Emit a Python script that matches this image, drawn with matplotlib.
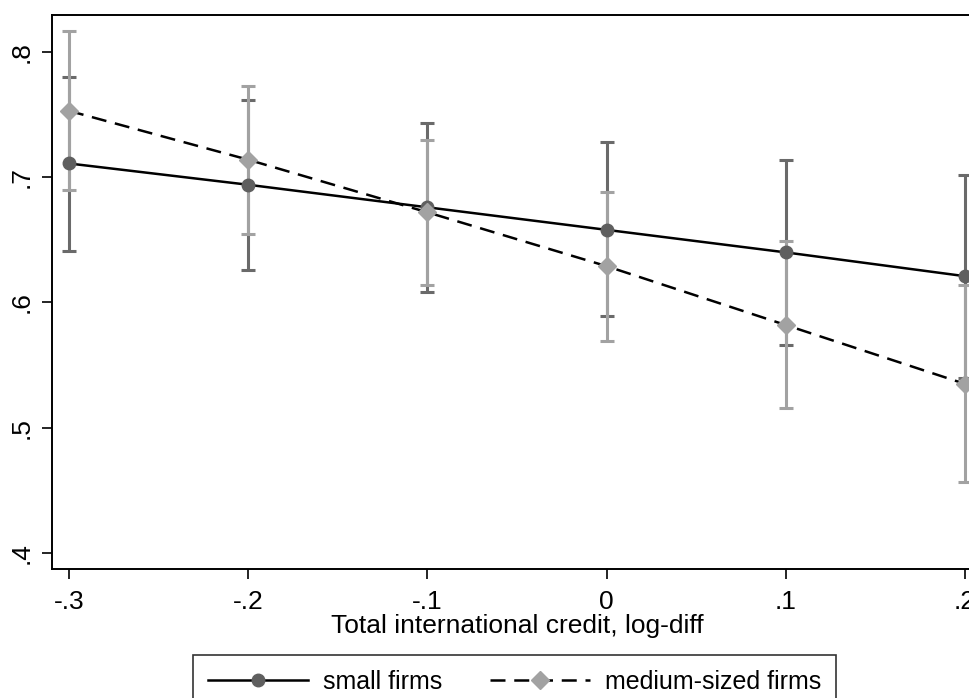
"""
Marges prédites selon le crédit international total (log-diff),
petites entreprises vs entreprises de taille moyenne, avec IC à 95 %.
"""

import matplotlib
matplotlib.use("Agg")
import matplotlib.pyplot as plt

plt.rcParams["font.family"] = ["Liberation Sans", "DejaVu Sans"]

# Données
credit = [-0.3, -0.2, -0.1, 0.0, 0.1, 0.2]

petites = [0.711, 0.694, 0.676, 0.658, 0.640, 0.621]
petites_bas = [0.641, 0.626, 0.608, 0.589, 0.566, 0.540]
petites_haut = [0.780, 0.762, 0.743, 0.728, 0.714, 0.702]

moyennes = [0.753, 0.714, 0.672, 0.629, 0.582, 0.535]
moyennes_bas = [0.690, 0.655, 0.614, 0.569, 0.516, 0.457]
moyennes_haut = [0.817, 0.773, 0.730, 0.688, 0.649, 0.614]

xticks = [-0.3, -0.2, -0.1, 0.0, 0.1, 0.2]
xlabels = ["-.3", "-.2", "-.1", "0", ".1", ".2"]
yticks = [0.4, 0.5, 0.6, 0.7, 0.8]
ylabels = [".4", ".5", ".6", ".7", ".8"]

FONCE = "#5f5f5f"
BARRE_FONCE = "#6a6a6a"
CLAIR = "#a2a2a2"

# ──────────────────────────────────────────────────────────────────────────────

fig = plt.figure(figsize=(9.7, 6.98), dpi=100)
# l'axe dépasse à droite : l'image d'origine est rognée
ax = fig.add_axes([52 / 970, 129 / 698, 930 / 970, 554 / 698])

def barres(y, bas, haut, couleur):
    err = [[v - b for v, b in zip(y, bas)], [h - v for v, h in zip(y, haut)]]
    ax.errorbar(credit, y, yerr=err, fmt="none", ecolor=couleur,
                elinewidth=2.2, capsize=5, capthick=2.2, zorder=2)

barres(petites, petites_bas, petites_haut, BARRE_FONCE)
barres(moyennes, moyennes_bas, moyennes_haut, CLAIR)

l1, = ax.plot(credit, petites, color="black", lw=1.8, marker="o",
              markersize=9, markerfacecolor=FONCE, markeredgecolor=FONCE,
              zorder=3)
l2, = ax.plot(credit, moyennes, color="black", lw=1.8, ls=(0, (6, 3.5)),
              marker="D", markersize=9, markerfacecolor=CLAIR,
              markeredgecolor=CLAIR, zorder=3)

ax.set_xlim(-0.3 - 17 / 1793, 0.2 + 17 / 1793)
ax.set_ylim(0.4 - 16 / 1253, 0.8 + 37 / 1253)

ax.set_xticks(xticks)
ax.set_xticklabels(xlabels, fontsize=19)
ax.set_yticks(yticks)
ax.set_yticklabels(ylabels, fontsize=19, rotation=90, va="center")
ax.tick_params(direction="out", length=7, width=1.2, color="black", pad=8)
ax.tick_params(axis="y", pad=6)

for s in ax.spines.values():
    s.set_linewidth(1.4)
    s.set_color("black")

ax.set_xlabel("Total international credit, log-diff", fontsize=19, labelpad=0)

fig.legend([l1, l2], ["small firms", "medium-sized firms"], ncol=2,
           loc="upper left", bbox_to_anchor=(193 / 970, 1 - 655 / 698),
           borderaxespad=0, fontsize=18, frameon=True, fancybox=False,
           edgecolor="black", handlelength=4.0, handletextpad=0.6,
           columnspacing=1.9, borderpad=0.6, numpoints=1)
fig.legends[0].get_frame().set_linewidth(1.2)

fig.savefig("out.png", dpi=100)
